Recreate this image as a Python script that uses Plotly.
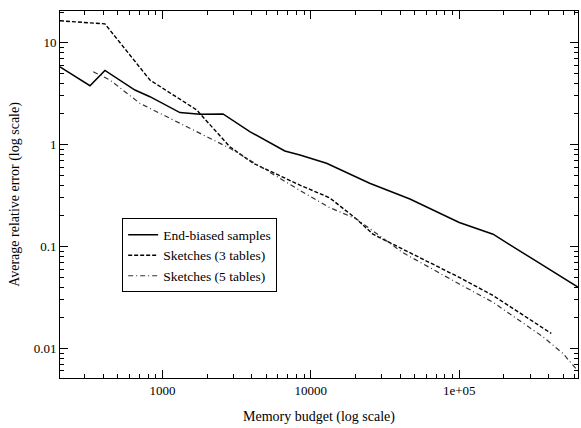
import plotly.graph_objects as go

# End-biased samples
eb_x = [204, 325, 410, 653, 824, 1312, 1790, 2560, 3880, 6680, 8440, 12760, 24900, 46500, 100000, 169000, 314000, 630000]
eb_y = [5.8, 3.78, 5.35, 3.43, 2.95, 2.06, 1.98, 2.0, 1.34, 0.865, 0.79, 0.655, 0.417, 0.292, 0.172, 0.132, 0.075, 0.040]

# Sketches (3 tables)
s3_x = [204, 410, 824, 1700, 2850, 4090, 8440, 13400, 20300, 26200, 41700, 100000, 169000, 417000]
s3_y = [16.4, 15.3, 4.3, 2.19, 0.95, 0.656, 0.40, 0.30, 0.186, 0.132, 0.094, 0.0497, 0.033, 0.014]

# Sketches (5 tables)
s5_x = [342, 443, 705, 1456, 2850, 8440, 13400, 20300, 41700, 100000, 169000, 366000, 500000, 630000]
s5_y = [5.19, 4.3, 2.54, 1.5, 0.92, 0.355, 0.241, 0.186, 0.087, 0.0428, 0.0283, 0.013, 0.0089, 0.0060]

x_tickvals = [1000, 10000, 100000]
x_ticktext = ["1000", "10000", "1e+05"]
y_tickvals = [0.01, 0.1, 1, 10]
y_ticktext = ["0.01", "0.1", "1", "10"]

x_minor = [m * 10 ** e for e in range(2, 6) for m in range(2, 10)]
y_minor = [m * 10.0 ** e for e in range(-3, 2) for m in range(2, 10)]

font = "Liberation Serif, Times New Roman, serif"

fig = go.Figure()
fig.add_trace(go.Scatter(x=eb_x, y=eb_y, mode="lines", name="End-biased samples",
                         line=dict(color="black", width=1.5)))
fig.add_trace(go.Scatter(x=s3_x, y=s3_y, mode="lines", name="Sketches (3 tables)",
                         line=dict(color="black", width=1.4, dash="4px,2px")))
fig.add_trace(go.Scatter(x=s5_x, y=s5_y, mode="lines", name="Sketches (5 tables)",
                         line=dict(color="#333333", width=1.2, dash="5px,3px,1px,3px")))

axis_common = dict(
    showline=True, linecolor="black", linewidth=1, mirror="ticks",
    ticks="inside", ticklen=8, tickcolor="black", tickwidth=1,
    showgrid=False, zeroline=False, automargin=False,
    tickfont=dict(family=font, size=13, color="black"),
)

fig.update_xaxes(type="log", range=[2.31, 5.80], tickvals=x_tickvals, ticktext=x_ticktext,
                 minor=dict(ticks="inside", ticklen=4, tickcolor="black", tickwidth=1,
                            showgrid=False, tickmode="array", tickvals=x_minor),
                 title=dict(text="Memory budget (log scale)", font=dict(family=font, size=14, color="black"),
                            standoff=14),
                 **axis_common)
fig.update_yaxes(type="log", range=[-2.291, 1.311], tickvals=y_tickvals, ticktext=y_ticktext,
                 minor=dict(ticks="inside", ticklen=4, tickcolor="black", tickwidth=1,
                            showgrid=False, tickmode="array", tickvals=y_minor),
                 title=dict(text="Average relative error (log scale)", font=dict(family=font, size=14, color="black"),
                            standoff=10),
                 **axis_common)

fig.update_layout(
    width=581, height=428,
    margin=dict(l=60, r=3, t=11, b=50, autoexpand=False),
    paper_bgcolor="white", plot_bgcolor="white",
    font=dict(family=font, size=13, color="black"),
    showlegend=True,
    legend=dict(x=0.12, y=0.435, xanchor="left", yanchor="top",
                bgcolor="white", bordercolor="black", borderwidth=1,
                font=dict(family=font, size=13.5, color="black"),
                tracegroupgap=0, itemwidth=30),
)

fig.write_html("out.html", config={"displayModeBar": False},
               post_script="document.body.style.margin='0';document.body.style.overflow='hidden';")
